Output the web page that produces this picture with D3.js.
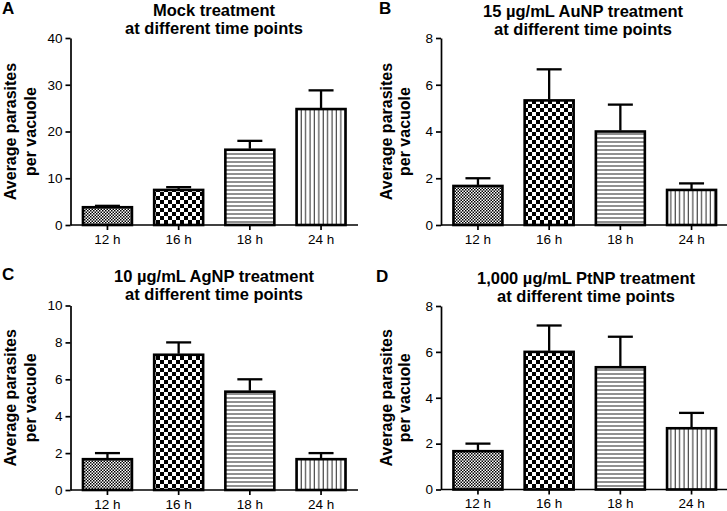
<!DOCTYPE html>
<html>
<head>
<meta charset="utf-8">
<script src="https://cdn.jsdelivr.net/npm/d3@7"></script>
<style>
  html, body { margin: 0; padding: 0; background: #fff; }
  svg { display: block; }
  text { font-family: "Liberation Sans", Arial, Helvetica, sans-serif; fill: #000; }
</style>
</head>
<body>
<svg id="chart" width="727" height="511"></svg>
<script>
// ---------------- DATA ----------------
const categories = ["12 h", "16 h", "18 h", "24 h"];

const mockMeans = [3.8, 7.5, 16.1, 24.8];
const mockErrors = [0.3, 0.6, 1.9, 4.0];
const mockTicks = [0, 10, 20, 30, 40];

const auMeans = [1.67, 5.33, 4.0, 1.5];
const auErrors = [0.33, 1.33, 1.15, 0.28];
const auTicks = [0, 2, 4, 6, 8];

const agMeans = [1.67, 7.33, 5.33, 1.67];
const agErrors = [0.33, 0.67, 0.67, 0.33];
const agTicks = [0, 2, 4, 6, 8, 10];

const ptMeans = [1.67, 6.0, 5.33, 2.67];
const ptErrors = [0.33, 1.15, 1.33, 0.67];
const ptTicks = [0, 2, 4, 6, 8];

const panelLetters = ["A", "B", "C", "D"];
const titleLine1 = ["Mock treatment", "15 µg/mL AuNP treatment", "10 µg/mL AgNP treatment", "1,000 µg/mL PtNP treatment"];
const titleLine2 = "at different time points";
const yLabelLines = ["Average parasites", "per vacuole"];

// ---------------- DRAW ----------------
const svg = d3.select("#chart");
const defs = svg.append("defs");

// patterns
const pFine = defs.append("pattern").attr("id", "pFine").attr("patternUnits", "userSpaceOnUse")
  .attr("width", 3).attr("height", 3);
pFine.append("rect").attr("width", 3).attr("height", 3).attr("fill", "#fff");
pFine.append("rect").attr("x", 0).attr("y", 0).attr("width", 1.5).attr("height", 1.5).attr("fill", "#000");
pFine.append("rect").attr("x", 1.5).attr("y", 1.5).attr("width", 1.5).attr("height", 1.5).attr("fill", "#000");

const pCheck = defs.append("pattern").attr("id", "pCheck").attr("patternUnits", "userSpaceOnUse")
  .attr("width", 8).attr("height", 8);
pCheck.append("rect").attr("width", 8).attr("height", 8).attr("fill", "#fff");
pCheck.append("rect").attr("x", 0).attr("y", 0).attr("width", 4).attr("height", 4).attr("fill", "#000");
pCheck.append("rect").attr("x", 4).attr("y", 4).attr("width", 4).attr("height", 4).attr("fill", "#000");

const pHoriz = defs.append("pattern").attr("id", "pHoriz").attr("patternUnits", "userSpaceOnUse")
  .attr("width", 4).attr("height", 4);
pHoriz.append("rect").attr("width", 4).attr("height", 4).attr("fill", "#fff");
pHoriz.append("rect").attr("x", 0).attr("y", 1.5).attr("width", 4).attr("height", 1).attr("fill", "#222");

const pVert = defs.append("pattern").attr("id", "pVert").attr("patternUnits", "userSpaceOnUse")
  .attr("width", 4.4).attr("height", 4);
pVert.append("rect").attr("width", 4.4).attr("height", 4).attr("fill", "#fff");
pVert.append("rect").attr("x", 1.5).attr("y", 0).attr("width", 1).attr("height", 4).attr("fill", "#222");

const fills = ["url(#pFine)", "url(#pCheck)", "url(#pHoriz)", "url(#pVert)"];

const panels = [
  { means: mockMeans, errors: mockErrors, ticks: mockTicks, axisX: 70.5, top: 38, bottom: 225, right: 358, titleX: 214, t1: 16, letterX: 2, letterY: 14, labelX: [16, 36] },
  { means: auMeans, errors: auErrors, ticks: auTicks, axisX: 441, top: 38, bottom: 225, right: 729, titleX: 583, t1: 17, letterX: 379, letterY: 14, labelX: [392, 410] },
  { means: agMeans, errors: agErrors, ticks: agTicks, axisX: 70.5, top: 305.5, bottom: 490, right: 358, titleX: 214, t1: 282, letterX: 2, letterY: 280, labelX: [16, 36] },
  { means: ptMeans, errors: ptErrors, ticks: ptTicks, axisX: 441, top: 306, bottom: 489.5, right: 729, titleX: 586, t1: 284, letterX: 376, letterY: 282, labelX: [392, 410] }
];

panels.forEach((p, i) => {
  const g = svg.append("g");
  const x = d3.scaleBand().domain(categories).range([p.axisX, p.axisX + 287.5])
    .paddingInner(0.312).paddingOuter(0.175);
  const y = d3.scaleLinear().domain([0, d3.max(p.ticks)]).range([p.bottom, p.top]);

  // bars
  g.selectAll("rect.bar").data(categories).join("rect")
    .attr("class", "bar")
    .attr("x", d => x(d))
    .attr("width", x.bandwidth())
    .attr("y", (d, j) => y(p.means[j]))
    .attr("height", (d, j) => y(0) - y(p.means[j]))
    .attr("fill", (d, j) => fills[j])
    .attr("stroke", "#000").attr("stroke-width", 2.6);

  // error bars (upper)
  const cap = 25;
  categories.forEach((c, j) => {
    const cx = x(c) + x.bandwidth() / 2;
    g.append("line").attr("x1", cx).attr("x2", cx)
      .attr("y1", y(p.means[j]) - 1).attr("y2", y(p.means[j] + p.errors[j]))
      .attr("stroke", "#000").attr("stroke-width", 2.3);
    g.append("line").attr("x1", cx - cap / 2).attr("x2", cx + cap / 2)
      .attr("y1", y(p.means[j] + p.errors[j])).attr("y2", y(p.means[j] + p.errors[j]))
      .attr("stroke", "#000").attr("stroke-width", 2.3);
  });

  // y axis
  const yAxis = d3.axisLeft(y).tickValues(p.ticks).tickSize(5).tickSizeOuter(0).tickPadding(3);
  const ya = g.append("g").attr("transform", `translate(${p.axisX},0)`).call(yAxis);
  ya.select(".domain").attr("stroke-width", 1.7);
  ya.selectAll(".tick line").attr("stroke-width", 1.7);
  ya.selectAll("text").attr("font-size", 13.5).attr("font-family", "Liberation Sans, Arial, sans-serif").attr("fill", "#111");

  // x axis
  const xa = g.append("g").attr("transform", `translate(0,${p.bottom})`)
    .call(d3.axisBottom(x).tickSize(5).tickSizeOuter(0).tickPadding(4));
  xa.select(".domain").attr("d", `M${p.axisX},0H${p.right}`).attr("stroke-width", 1.7);
  xa.selectAll(".tick line").attr("stroke-width", 1.7);
  xa.selectAll("text").attr("font-size", 13.5).attr("font-family", "Liberation Sans, Arial, sans-serif").attr("fill", "#111");

  // titles
  g.append("text").attr("x", p.titleX).attr("y", p.t1).attr("text-anchor", "middle")
    .attr("font-size", 16.5).attr("font-weight", "bold").text(titleLine1[i]);
  g.append("text").attr("x", p.titleX).attr("y", p.t1 + 18).attr("text-anchor", "middle")
    .attr("font-size", 16.5).attr("font-weight", "bold").text(titleLine2);

  // panel letter
  g.append("text").attr("x", p.letterX).attr("y", p.letterY)
    .attr("font-size", 17).attr("font-weight", "bold").text(panelLetters[i]);

  // y label
  const cy = (p.top + p.bottom) / 2;
  yLabelLines.forEach((t, k) => {
    g.append("text").attr("transform", `translate(${p.labelX[k]},${cy}) rotate(-90)`)
      .attr("text-anchor", "middle").attr("font-size", 16).attr("font-weight", "bold").text(t);
  });
});
</script>
</body>
</html>
